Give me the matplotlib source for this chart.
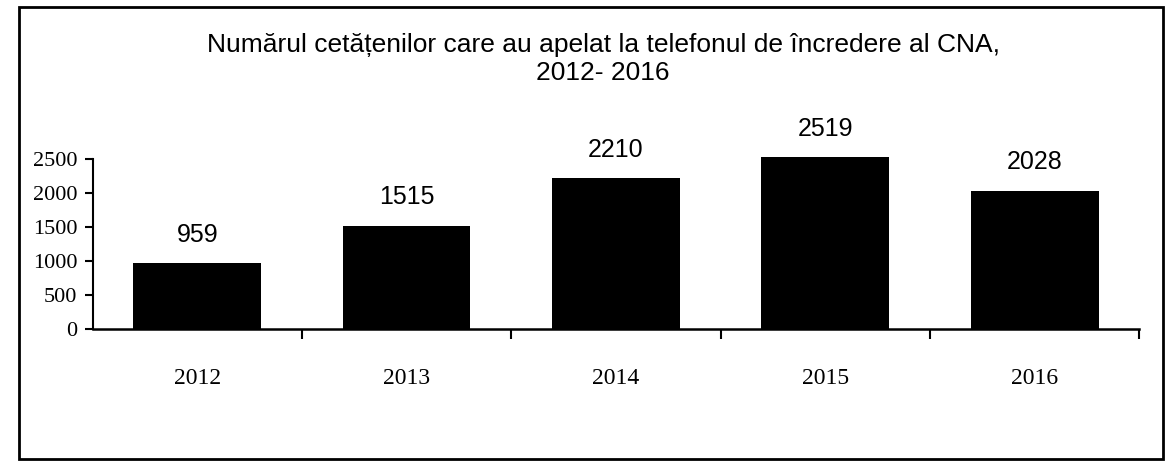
import matplotlib.pyplot as plt
from matplotlib.patches import Rectangle

# Data
years = ["2012", "2013", "2014", "2015", "2016"]
calls = [959, 1515, 2210, 2519, 2028]

fig = plt.figure(figsize=(11.71, 4.73), dpi=100)
ax = fig.add_axes([0.079, 0.305, 0.894, 0.38])

x = range(len(years))
ax.bar(x, calls, width=0.61, color="black")

# value labels above bars
for i, v in enumerate(calls):
    ax.annotate(str(v), (i, v), textcoords="offset points", xytext=(0, 12),
                ha="center", va="bottom", fontsize=18, family="Liberation Sans",
                annotation_clip=False)

ax.set_xlim(-0.5, len(years) - 0.5)
ax.set_ylim(0, 2640)
ax.spines["left"].set_bounds(0, 2500)
ax.set_yticks([0, 500, 1000, 1500, 2000, 2500])
ax.set_xticks(list(x))
ax.set_xticklabels(years)
ax.set_xticks([i + 0.5 for i in range(len(years))], minor=True)

for lab in ax.get_xticklabels():
    lab.set_family("Liberation Serif")
    lab.set_fontsize(17)
for lab in ax.get_yticklabels():
    lab.set_family("Liberation Serif")
    lab.set_fontsize(16)

ax.tick_params(axis="x", which="major", length=0, pad=28)
ax.tick_params(axis="x", which="minor", length=7, width=1.5, direction="out")
ax.tick_params(axis="y", length=6, width=1.5, direction="out", pad=5)

ax.spines["top"].set_visible(False)
ax.spines["right"].set_visible(False)
ax.spines["left"].set_linewidth(1.5)
ax.spines["bottom"].set_linewidth(1.8)

# title
fig.text(0.515, 0.875, "Numărul cetățenilor care au apelat la telefonul de încredere al CNA,\n2012- 2016",
         ha="center", va="center", fontsize=19, family="Liberation Sans", linespacing=1.2)

# outer frame
fig.patches.append(Rectangle((0.016, 0.03), 0.977, 0.955, transform=fig.transFigure,
                             fill=False, edgecolor="black", linewidth=2))

fig.savefig("out.png", dpi=100)
